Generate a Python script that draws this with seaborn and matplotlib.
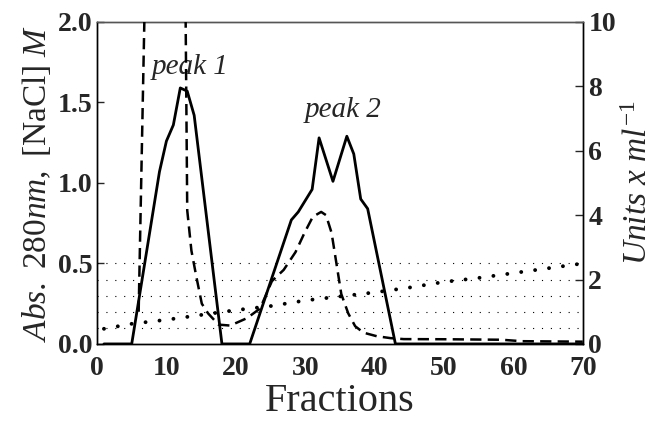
import matplotlib
matplotlib.use("Agg")
import matplotlib.pyplot as plt
import seaborn as sns
import pandas as pd
from matplotlib.ticker import MultipleLocator

# ---- data ----
abs_x = [1, 5, 9, 10, 11, 12, 13, 14, 18, 22, 28, 29, 31, 32, 34, 36, 37, 38, 39, 43, 70]
abs_y = [0, 0, 1.07, 1.26, 1.36, 1.59, 1.57, 1.42, 0, 0, 0.77, 0.82, 0.96, 1.28, 1.01, 1.29, 1.18, 0.90, 0.84, 0, 0]

nacl_x = [1, 5, 10, 15, 20, 25, 30, 35, 40, 45, 50, 55, 60, 65, 70]
nacl_y = [0.094, 0.125, 0.15, 0.18, 0.21, 0.235, 0.27, 0.295, 0.32, 0.35, 0.385, 0.41, 0.44, 0.47, 0.50]

units_x = [6, 7, 8, 9, 10, 11, 12, 13, 13.6, 14.3, 15.1, 16, 17.5, 19.2, 21.6, 23.5, 25.2, 26.9, 28.6,
           29.9, 31.1, 32.3, 33.0, 33.8, 34.5, 35.2, 36.2, 37.2, 38.4, 40.3, 42.3, 44.2, 50.5, 58.3, 61.2, 70]
units_y = [1.0, 12, 25, 32, 35, 35, 30, 4.15, 2.9, 2.1, 1.25, 0.95, 0.6, 0.57, 0.8, 1.1, 1.95, 2.3, 2.85,
           3.45, 3.95, 4.1, 4.0, 3.45, 2.5, 1.55, 0.95, 0.55, 0.35, 0.24, 0.18, 0.15, 0.145, 0.13, 0.085, 0.07]

grid_levels = [0.1, 0.2, 0.3, 0.4, 0.5]
left_ticks = [0.0, 0.5, 1.0, 1.5, 2.0]
left_labels = ["0.0", "0.5", "1.0", "1.5", "2.0"]
right_ticks = [0, 2, 4, 6, 8, 10]
x_ticks = [0, 10, 20, 30, 40, 50, 60, 70]

sns.set_style("white")
plt.rcParams["font.family"] = ["Liberation Serif", "DejaVu Serif"]
plt.rcParams["mathtext.fontset"] = "custom"
plt.rcParams["mathtext.rm"] = "Liberation Serif"
plt.rcParams["mathtext.it"] = "Liberation Serif:italic"
plt.rcParams["mathtext.bf"] = "Liberation Serif:bold"

fig = plt.figure(figsize=(6.6, 4.22), dpi=100)
ax = fig.add_axes([0.147, 0.185, 0.736, 0.763])

df_abs = pd.DataFrame({"x": abs_x, "y": abs_y})
df_nacl = pd.DataFrame({"x": nacl_x, "y": nacl_y})
df_units = pd.DataFrame({"x": units_x, "y": units_y})

for lv in grid_levels:
    ax.axhline(lv, color="black", lw=0.8, linestyle=(0, (1, 7)), zorder=1)

sns.lineplot(data=df_abs, x="x", y="y", ax=ax, color="black", lw=2.0, zorder=4)
sns.lineplot(data=df_nacl, x="x", y="y", ax=ax, color="black", lw=2.8,
             linestyle=(0, (0.01, 3.6)), dash_capstyle="round", zorder=3)

ax.set_xlim(0, 70)
ax.set_ylim(0, 2.0)
ax.set_xticks(x_ticks)
ax.xaxis.set_minor_locator(MultipleLocator(5))
ax.set_yticks(left_ticks)
ax.set_yticklabels(left_labels)
ax.tick_params(axis="y", which="major", direction="in", length=5, width=1, labelsize=20, pad=3)
ax.tick_params(axis="x", which="major", direction="in", length=5, width=1, labelsize=20, pad=9)
ax.tick_params(axis="x", which="minor", direction="in", length=3, width=0.8)
for lab in ax.get_xticklabels() + ax.get_yticklabels():
    lab.set_fontweight("bold")
ax.set_xlabel("Fractions", fontsize=29, labelpad=1)
ax.set_ylabel(r"$\mathit{Abs.\ 280nm,}\ \mathrm{[NaCl]}\ \mathit{M}$", fontsize=24, labelpad=4)

ax2 = ax.twinx()
sns.lineplot(data=df_units, x="x", y="y", ax=ax2, color="black", lw=1.8,
             linestyle=(0, (4.5, 2.5)), zorder=3)
ax2.set_ylim(0, 10)
ax2.set_yticks(right_ticks)
ax2.tick_params(axis="y", direction="in", length=6, width=1, labelsize=20, pad=4)
for lab in ax2.get_yticklabels():
    lab.set_fontweight("bold")
ax2.set_ylabel(r"$\mathit{Units\ x\ ml^{-1}}$", fontsize=24, labelpad=5)
ax2.set_xlim(0, 70)

for a in (ax, ax2):
    for s in a.spines.values():
        s.set_color("#555555")
        s.set_linewidth(1.0)
    a.spines["left"].set_color("black")
    a.spines["bottom"].set_color("black")
    a.spines["right"].set_color("black")

ax.text(13.4, 1.64, "peak 1", fontsize=21, style="italic", ha="center", va="bottom")
ax.text(35.4, 1.37, "peak 2", fontsize=21, style="italic", ha="center", va="bottom")

fig.savefig("out.png", dpi=100)
